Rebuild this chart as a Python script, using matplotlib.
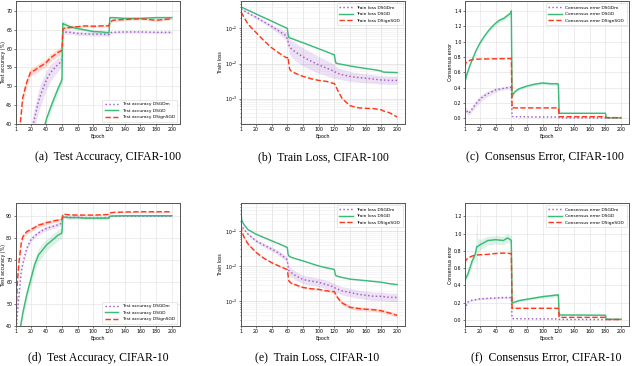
import numpy as np
import matplotlib
matplotlib.use("Agg")
import matplotlib.pyplot as plt

# ---- data ----
# (a) test accuracy, CIFAR-100
ep_a = [1, 5, 7, 10, 15, 20, 25, 30, 35, 40, 45, 50, 55, 59, 60, 61, 62, 70, 80, 90,
        100, 110, 119, 120, 121, 125, 140, 160, 180, 200]
acc100_dsgdm = [10, 18, 21, 26, 32, 37, 41.5, 46, 49, 51.6, 53.5, 54.7, 55.8, 56.5, 57, 63.8, 64.4, 64.3, 64.0, 63.9,
                63.8, 63.8, 63.7, 63.8, 64.2, 64.3, 64.4, 64.4, 64.3, 64.3]
acc100_dsgd = [8, 12, 14, 17, 22, 26, 30, 33, 37, 41.2, 44.1, 46.8, 49.4, 51.2, 52, 66.7, 66.5, 65.8, 65.3, 64.9,
               64.5, 64.4, 64.2, 64.2, 68.2, 68.2, 68.0, 68.0, 68.2, 68.2]
acc100_dsign = [20, 37, 40.5, 47, 51, 53.8, 54.2, 55, 55.6, 56.3, 57.5, 58.2, 59, 59.4, 59.8, 64.8, 65.3, 65.6, 65.8, 66.0,
                65.9, 66.0, 66.0, 66.2, 67.0, 67.5, 67.7, 67.9, 67.5, 67.9]
acc100_dsgdm_sd = [1, 1, 1, 1.5, 2, 2.5, 2.8, 2.8, 2.8, 2.5, 2.3, 2, 1.8, 1.5, 1.2, 0.6, 0.6, 0.5, 0.5, 0.5,
                   0.5, 0.5, 0.5, 0.4, 0.4, 0.3, 0.3, 0.3, 0.3, 0.3]
acc100_dsgd_sd = [1, 1, 1, 1, 1, 1, 1, 1, 1, 1.2, 1.2, 1.2, 1.2, 1.2, 1.2, 0.9, 0.9, 0.6, 0.5, 0.4,
                  0.4, 0.4, 0.4, 0.3, 0.3, 0.3, 0.3, 0.3, 0.3, 0.3]
acc100_dsign_sd = [1, 1, 1, 1.2, 1.2, 1, 1, 1, 1, 1, 1, 1, 1, 1, 1, 0.4, 0.4, 0.3, 0.3, 0.3,
                   0.3, 0.3, 0.3, 0.3, 0.3, 0.3, 0.3, 0.3, 0.3, 0.3]

# (b) train loss, CIFAR-100  (sd in decades)
ep_b = [1, 10, 20, 30, 40, 50, 58, 60, 61, 62, 63, 65, 70, 80, 90, 100, 110, 119, 120, 121,
        122, 125, 130, 140, 150, 160, 170, 180, 182, 190, 200]
loss100_dsgdm = [0.356, 0.272, 0.208, 0.154, 0.114, 0.082, 0.063, 0.051, 0.042, 0.034, 0.030, 0.0263, 0.0216, 0.0154,
                 0.0118, 0.0091, 0.0074, 0.0061, 0.0059, 0.0057, 0.0056, 0.0052, 0.0048, 0.0043, 0.0040, 0.0038,
                 0.0036, 0.0034, 0.0034, 0.0033, 0.0033]
loss100_dsgd = [0.406, 0.328, 0.258, 0.203, 0.161, 0.126, 0.105, 0.100, 0.067, 0.055, 0.054, 0.052, 0.047, 0.039,
                0.032, 0.0263, 0.0216, 0.0179, 0.0176, 0.0126, 0.0103, 0.0098, 0.0094, 0.0085, 0.0078, 0.0072,
                0.0067, 0.0061, 0.0057, 0.0056, 0.0055]
loss100_dsign = [0.291, 0.131, 0.0766, 0.0449, 0.0281, 0.0195, 0.0149, 0.0144, 0.0154, 0.0097, 0.0069, 0.0061,
                 0.0053, 0.0043, 0.0037, 0.0033, 0.0031, 0.0027, 0.0027, 0.0025, 0.0022, 0.0016, 0.0010, 0.00063,
                 0.00055, 0.00053, 0.00052, 0.00048, 0.00045, 0.00040, 0.00030]
loss100_dsgdm_sd = [0.02, 0.03, 0.04, 0.05, 0.06, 0.08, 0.12, 0.15, 0.17, 0.2, 0.22, 0.24, 0.25, 0.26, 0.25, 0.24,
                    0.22, 0.2, 0.2, 0.18, 0.17, 0.16, 0.15, 0.14, 0.13, 0.13, 0.12, 0.12, 0.12, 0.12, 0.12]

# (c) consensus error, CIFAR-100
ep_c = [1, 2, 3, 5, 7, 10, 15, 20, 25, 30, 35, 40, 45, 50, 55, 59, 60, 61, 62, 65, 70, 80, 90, 100,
        110, 119, 120, 121, 179, 180, 181, 200]
cons100_dsgdm = [0.14, 0.11, 0.10, 0.065, 0.08, 0.12, 0.19, 0.25, 0.29, 0.32, 0.345, 0.37, 0.38, 0.39, 0.40, 0.405,
                 0.41, 0.025, 0.022, 0.02, 0.02, 0.018, 0.017, 0.016, 0.016, 0.015, 0.015, 0.005, 0.004, 0.004,
                 0.003, 0.003]
cons100_dsgd = [0.47, 0.52, 0.56, 0.62, 0.68, 0.76, 0.88, 0.98, 1.06, 1.13, 1.19, 1.24, 1.28, 1.30, 1.34, 1.37,
                1.40, 0.28, 0.31, 0.35, 0.385, 0.42, 0.445, 0.46, 0.45, 0.45, 0.44, 0.065, 0.065, 0.065, 0.005,
                0.005]
cons100_dsign = [0.67, 0.72, 0.735, 0.745, 0.755, 0.765, 0.77, 0.772, 0.773, 0.774, 0.775, 0.776, 0.777, 0.778,
                 0.779, 0.78, 0.78, 0.135, 0.135, 0.135, 0.135, 0.135, 0.135, 0.135, 0.135, 0.135, 0.135, 0.02,
                 0.02, 0.02, 0.008, 0.008]
cons100_dsgdm_sd = [0.03, 0.03, 0.03, 0.03, 0.03, 0.035, 0.04, 0.04, 0.04, 0.035, 0.03, 0.03, 0.02, 0.02, 0.02,
                    0.02, 0.02, 0, 0, 0, 0, 0, 0, 0, 0, 0, 0, 0, 0, 0, 0, 0]
cons100_dsgd_sd = [0.01, 0.01, 0.01, 0.01, 0.01, 0.01, 0.015, 0.015, 0.02, 0.02, 0.02, 0.03, 0.03, 0.03, 0.03,
                   0.03, 0.03, 0.01, 0.01, 0.01, 0.015, 0.015, 0.02, 0.02, 0.02, 0.02, 0.02, 0, 0, 0, 0, 0]

# (d) test accuracy, CIFAR-10
ep_d = [1, 2, 3, 5, 8, 10, 15, 20, 25, 30, 35, 40, 45, 50, 55, 59, 60, 61, 62, 70, 80, 90, 100,
        110, 119, 120, 121, 125, 140, 160, 180, 200]
acc10_dsgdm = [25, 40, 45, 53.3, 64.7, 68.5, 75.3, 79.1, 81, 82.4, 83.5, 84.4, 85, 85.5, 86.1, 86.7, 86.9, 89.7,
               89.7, 89.5, 89.4, 89.3, 89.2, 89.3, 89.4, 89.4, 90.0, 90.0, 90.0, 90.0, 90.0, 90.0]
acc10_dsgd = [20, 25, 30, 35, 41.5, 45.8, 54.1, 60.9, 67.7, 72.3, 74.5, 76.8, 78.3, 79.8, 81.4, 82.1, 82.9, 89.7,
              89.6, 89.3, 89.4, 89.1, 89.1, 89.1, 89.1, 89.2, 90.0, 90.1, 90.2, 90.2, 90.2, 90.2]
acc10_dsign = [30, 50, 59.4, 68.5, 77.6, 80.6, 82.9, 83.9, 84.8, 85.9, 86.4, 87.0, 87.4, 87.9, 88.2, 88.5, 88.7,
               90.8, 90.9, 90.6, 90.5, 90.5, 90.5, 90.6, 90.8, 90.9, 91.5, 91.7, 91.9, 92.0, 92.0, 92.0]
acc10_dsgdm_sd = [1, 1, 1, 1, 1, 1, 1, 1, 1, 1, 1, 1, 1, 1, 1, 1, 1, 0.3, 0.3, 0.3, 0.3, 0.3, 0.3, 0.3, 0.3,
                  0.3, 0.2, 0.2, 0.2, 0.2, 0.2, 0.2]
acc10_dsgd_sd = [1, 1, 1, 1, 1.5, 2, 2.5, 3, 3, 3, 3, 2.5, 2.5, 2.5, 2.5, 2.5, 2.5, 0.7, 0.7, 0.7, 0.7, 0.7,
                 0.7, 0.7, 0.7, 0.5, 0.3, 0.3, 0.3, 0.3, 0.3, 0.3]
acc10_dsign_sd = [1, 1, 1, 1, 1, 1, 1, 1, 1, 1, 1, 1, 0.8, 0.8, 0.8, 0.8, 0.8, 0.3, 0.3, 0.3, 0.3, 0.3, 0.3,
                  0.3, 0.3, 0.3, 0.2, 0.2, 0.2, 0.2, 0.2, 0.2]

# (e) train loss, CIFAR-10  (sd in decades)
ep_e = [1, 2, 5, 10, 20, 30, 40, 50, 59, 60, 61, 62, 65, 70, 80, 90, 100, 110, 119, 120, 121, 122, 125,
        130, 140, 150, 160, 170, 180, 190, 200]
loss10_dsgdm = [0.16, 0.14, 0.11, 0.082, 0.053, 0.040, 0.031, 0.023, 0.016, 0.014, 0.010, 0.0075, 0.0066, 0.0055,
                0.0042, 0.0038, 0.0035, 0.0030, 0.0026, 0.0025, 0.0024, 0.0023, 0.0022, 0.0020, 0.0018, 0.0016,
                0.0015, 0.0014, 0.0014, 0.0013, 0.0013]
loss10_dsgd = [0.35, 0.20, 0.15, 0.11, 0.082, 0.066, 0.053, 0.043, 0.035, 0.034, 0.022, 0.0197, 0.018, 0.0165,
               0.0142, 0.012, 0.0102, 0.009, 0.0082, 0.008, 0.006, 0.0054, 0.0051, 0.0048, 0.0043, 0.0041, 0.0039,
               0.0037, 0.0035, 0.0032, 0.0030]
loss10_dsign = [0.14, 0.10, 0.066, 0.043, 0.025, 0.017, 0.0127, 0.010, 0.0082, 0.008, 0.0055, 0.0038, 0.0033,
                0.0030, 0.0025, 0.0023, 0.0022, 0.0020, 0.0019, 0.0019, 0.0017, 0.0015, 0.0012, 0.0009, 0.00068,
                0.00063, 0.0006, 0.00058, 0.00054, 0.00047, 0.0004]
loss10_dsgdm_sd = [0.02, 0.02, 0.02, 0.03, 0.04, 0.05, 0.06, 0.07, 0.08, 0.08, 0.1, 0.12, 0.12, 0.12, 0.12, 0.12,
                   0.12, 0.12, 0.12, 0.12, 0.12, 0.12, 0.12, 0.12, 0.12, 0.12, 0.12, 0.12, 0.12, 0.12, 0.12]
loss10_dsign_sd = [0.02, 0.02, 0.02, 0.02, 0.02, 0.02, 0.02, 0.02, 0.02, 0.02, 0.03, 0.03, 0.03, 0.03, 0.03, 0.03,
                   0.03, 0.03, 0.03, 0.03, 0.03, 0.04, 0.05, 0.05, 0.05, 0.05, 0.05, 0.05, 0.05, 0.05, 0.05]

# (f) consensus error, CIFAR-10
ep_f = [1, 2, 3, 5, 10, 14, 15, 16, 17, 20, 30, 40, 50, 55, 59, 60, 61, 62, 70, 80, 90, 100, 110, 119,
        120, 121, 179, 180, 181, 200]
cons10_dsgdm = [0.12, 0.15, 0.18, 0.21, 0.23, 0.235, 0.237, 0.24, 0.24, 0.245, 0.25, 0.255, 0.26, 0.26, 0.26,
                0.26, 0.02, 0.015, 0.014, 0.013, 0.013, 0.012, 0.012, 0.012, 0.012, 0.006, 0.005, 0.005, 0.005,
                0.005]
cons10_dsgd = [0.46, 0.48, 0.50, 0.54, 0.68, 0.76, 0.80, 0.85, 0.85, 0.87, 0.92, 0.93, 0.92, 0.95, 0.93, 0.92,
               0.19, 0.20, 0.225, 0.24, 0.255, 0.27, 0.28, 0.29, 0.29, 0.058, 0.055, 0.055, 0.008, 0.008]
cons10_dsign = [0.66, 0.69, 0.70, 0.72, 0.74, 0.75, 0.75, 0.752, 0.753, 0.755, 0.76, 0.77, 0.775, 0.772, 0.77,
                0.77, 0.135, 0.135, 0.135, 0.135, 0.135, 0.135, 0.135, 0.135, 0.135, 0.03, 0.03, 0.03, 0.005,
                0.005]
cons10_dsgd_sd = [0.02, 0.02, 0.03, 0.04, 0.05, 0.06, 0.1, 0.45, 0.1, 0.06, 0.05, 0.05, 0.05, 0.05, 0.05, 0.05,
                  0.01, 0.01, 0.015, 0.015, 0.015, 0.02, 0.02, 0.02, 0.02, 0.005, 0.005, 0.005, 0, 0]
cons10_dsgdm_sd = [0.01, 0.01, 0.01, 0.01, 0.01, 0.01, 0.01, 0.01, 0.01, 0.01, 0.01, 0.01, 0.01, 0.01, 0.01, 0.01,
                   0, 0, 0, 0, 0, 0, 0, 0, 0, 0, 0, 0, 0, 0]

methods = ["DSGDm", "DSGD", "DSignSGD"]
xticks = [1, 20, 40, 60, 80, 100, 120, 140, 160, 180, 200]
captions = ["(a)  Test Accuracy, CIFAR-100", "(b)  Train Loss, CIFAR-100", "(c)  Consensus Error, CIFAR-100",
            "(d)  Test Accuracy, CIFAR-10", "(e)  Train Loss, CIFAR-10", "(f)  Consensus Error, CIFAR-10"]

# ---- style ----
c_m = "#a05cc8"
c_g = "#3dba7a"
c_r = "#ff3a1c"
styles = [(c_m, ":"), (c_g, "-"), (c_r, "--")]
fs = 3.4      # tick / axis label size
fs_leg = 3.2  # legend size


def band(ax, x, y, sd, color, log=False):
    x = np.array(x)
    y = np.array(y)
    sd = np.array(sd)
    if log:
        lo, hi = y / 10 ** sd, y * 10 ** sd
    else:
        lo, hi = y - sd, y + sd
    ax.fill_between(x, lo, hi, color=color, alpha=0.18, lw=0)


def panel(ax, ep, series, bands, ylabel, label_x, legend_loc, prefix, ylim, log=False):
    for (col, ls), y, m in zip(styles, series, methods):
        ax.plot(ep, y, color=col, ls=ls, lw=1.05, label=f"{prefix} {m}")
    for (col, ls), y, sd in zip(styles, series, bands):
        if sd is not None:
            band(ax, ep, y, sd, col, log)
    if log:
        ax.set_yscale("log")
        ax.grid(True, which="major", color="#dddddd", lw=0.5)
        ax.grid(True, which="minor", axis="y", color="#eeeeee", lw=0.4)
    else:
        ax.grid(True, color="#e4e4e4", lw=0.5)
    ax.set_axisbelow(True)
    ax.set_xlim(1, 210)
    ax.set_ylim(*ylim)
    ax.set_xticks(xticks)
    ax.tick_params(labelsize=fs, length=1.5, width=0.5, pad=1.0, color="#444444")
    ax.tick_params(which="minor", length=1.0, width=0.4)
    for sp in ax.spines.values():
        sp.set_color("#555555")
        sp.set_linewidth(0.7)
    ax.set_xlabel("Epoch", fontsize=fs, labelpad=1)
    ax.set_ylabel(ylabel, fontsize=fs)
    ax.yaxis.set_label_coords(label_x, 0.5)
    leg = ax.legend(loc=legend_loc, fontsize=fs_leg, handlelength=3.0, frameon=True, borderpad=0.6,
                    labelspacing=0.5, fancybox=False)
    leg.get_frame().set_linewidth(0.4)
    leg.get_frame().set_edgecolor("#cccccc")


fig = plt.figure(figsize=(6.4, 3.66), dpi=100)
W, H = 640, 366
lefts = [15.7, 241, 465]
width = 164
row_tb = [(1, 124), (203, 326)]

axes = []
for r, (top, bot) in enumerate(row_tb):
    for c, lx in enumerate(lefts):
        axes.append(fig.add_axes([lx / W, 1 - bot / H, width / W, (bot - top) / H]))

panel(axes[0], ep_a, [acc100_dsgdm, acc100_dsgd, acc100_dsign],
      [acc100_dsgdm_sd, acc100_dsgd_sd, acc100_dsign_sd],
      "Test accuracy (%)", -0.062, "lower right", "Test accuracy", (40, 72.6))
panel(axes[1], ep_b, [loss100_dsgdm, loss100_dsgd, loss100_dsign],
      [loss100_dsgdm_sd, None, None],
      "Train loss", -0.11, "upper right", "Train loss", (1.9e-4, 0.6), log=True)
panel(axes[2], ep_c, [cons100_dsgdm, cons100_dsgd, cons100_dsign],
      [cons100_dsgdm_sd, cons100_dsgd_sd, None],
      "Consensus error", -0.072, "upper right", "Consensus error", (-0.075, 1.53))
panel(axes[3], ep_d, [acc10_dsgdm, acc10_dsgd, acc10_dsign],
      [acc10_dsgdm_sd, acc10_dsgd_sd, acc10_dsign_sd],
      "Test accuracy (%)", -0.062, "lower right", "Test accuracy", (40, 96))
panel(axes[4], ep_e, [loss10_dsgdm, loss10_dsgd, loss10_dsign],
      [loss10_dsgdm_sd, None, loss10_dsign_sd],
      "Train loss", -0.11, "upper right", "Train loss", (2e-4, 0.63), log=True)
panel(axes[5], ep_f, [cons10_dsgdm, cons10_dsgd, cons10_dsign],
      [cons10_dsgdm_sd, cons10_dsgd_sd, None],
      "Consensus error", -0.072, "upper right", "Consensus error", (-0.07, 1.355))

cap_x = [108, 323, 545, 98, 317, 546]
cap_y = [157, 157, 157, 358, 358, 358]
for txt, cx, cy in zip(captions, cap_x, cap_y):
    fig.text(cx / W, 1 - cy / H, txt, ha="center", va="center", fontsize=8.5,
             family=["Liberation Serif", "DejaVu Serif"])

fig.savefig("out.png", dpi=100)
